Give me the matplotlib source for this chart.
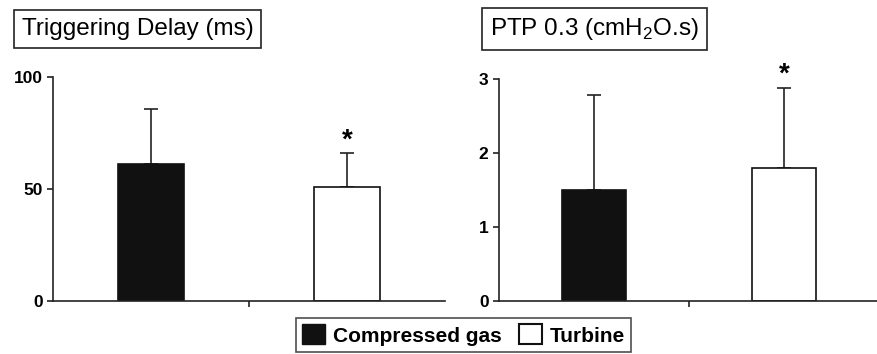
import matplotlib.pyplot as plt
from matplotlib.patches import Patch

plt.rcParams['font.family'] = ['Liberation Sans', 'DejaVu Sans']
plt.rcParams['mathtext.fontset'] = 'custom'
plt.rcParams['mathtext.rm'] = 'Liberation Sans'

# Données
groups = ['Compressed gas', 'Turbine']
delay_mean = [61, 51]
delay_sd = [24.5, 15]
ptp_mean = [1.5, 1.8]
ptp_sd = [1.28, 1.08]
delay_ticks = [0, 50, 100]
ptp_ticks = [0, 1, 2, 3]

colors = ['#111111', 'white']
xpos = [0.5, 1.5]

fig = plt.figure(figsize=(8.78, 3.54), dpi=100)
ax1 = fig.add_axes([0.0604, 0.1497, 0.4465, 0.6328])
ax2 = fig.add_axes([0.5683, 0.1497, 0.4328, 0.6271])


def draw_panel(ax, means, sds, ticks, title, title_box):
    ax.bar(xpos, means, width=0.34, color=colors, edgecolor='#111111', linewidth=1.2, zorder=2)
    ax.errorbar(xpos, means, yerr=[[0, 0], sds], fmt='none', ecolor='#222222',
                elinewidth=1.2, capsize=5, capthick=1.2, zorder=1)
    ax.set_xlim(0, 2)
    ax.set_ylim(ticks[0], ticks[-1])
    ax.set_yticks(ticks)
    ax.set_xticks([1])
    ax.set_xticklabels([''])
    for s in ['top', 'right']:
        ax.spines[s].set_visible(False)
    for s in ['left', 'bottom']:
        ax.spines[s].set_linewidth(1.2)
        ax.spines[s].set_color('#222222')
    ax.tick_params(axis='both', direction='out', length=4, width=1.2, color='#222222')
    for lab in ax.get_yticklabels():
        lab.set_fontweight('bold')
        lab.set_fontsize(12.5)
    # astérisque au-dessus du Turbine
    ax.text(xpos[1], means[1] + sds[1], '*', ha='center', va='bottom', fontsize=20,
            fontweight='bold', transform=ax.transData)
    fig.text(title_box[0], title_box[1], title, fontsize=17.5, ha='left', va='center',
             bbox=dict(boxstyle='square,pad=0.32', facecolor='white', edgecolor='#222222', linewidth=1.2))


draw_panel(ax1, delay_mean, delay_sd, delay_ticks, 'Triggering Delay (ms)', (0.025, 0.918))
draw_panel(ax2, ptp_mean, ptp_sd, ptp_ticks, r'PTP 0.3 (cmH$_\mathregular{2}$O.s)', (0.558, 0.918))

handles = [Patch(facecolor=colors[0], edgecolor='#111111'), Patch(facecolor='white', edgecolor='#111111', linewidth=1.5)]
leg = fig.legend(handles, groups, loc='upper center', bbox_to_anchor=(0.528, 0.101), ncol=2,
                 fancybox=False, edgecolor='#222222', prop={'weight': 'bold', 'size': 15},
                 handlelength=1.1, handleheight=1.1, handletextpad=0.4, columnspacing=0.8,
                 borderpad=0.3, borderaxespad=0)
leg.get_frame().set_linewidth(1.2)

plt.savefig('out.png', dpi=100)
